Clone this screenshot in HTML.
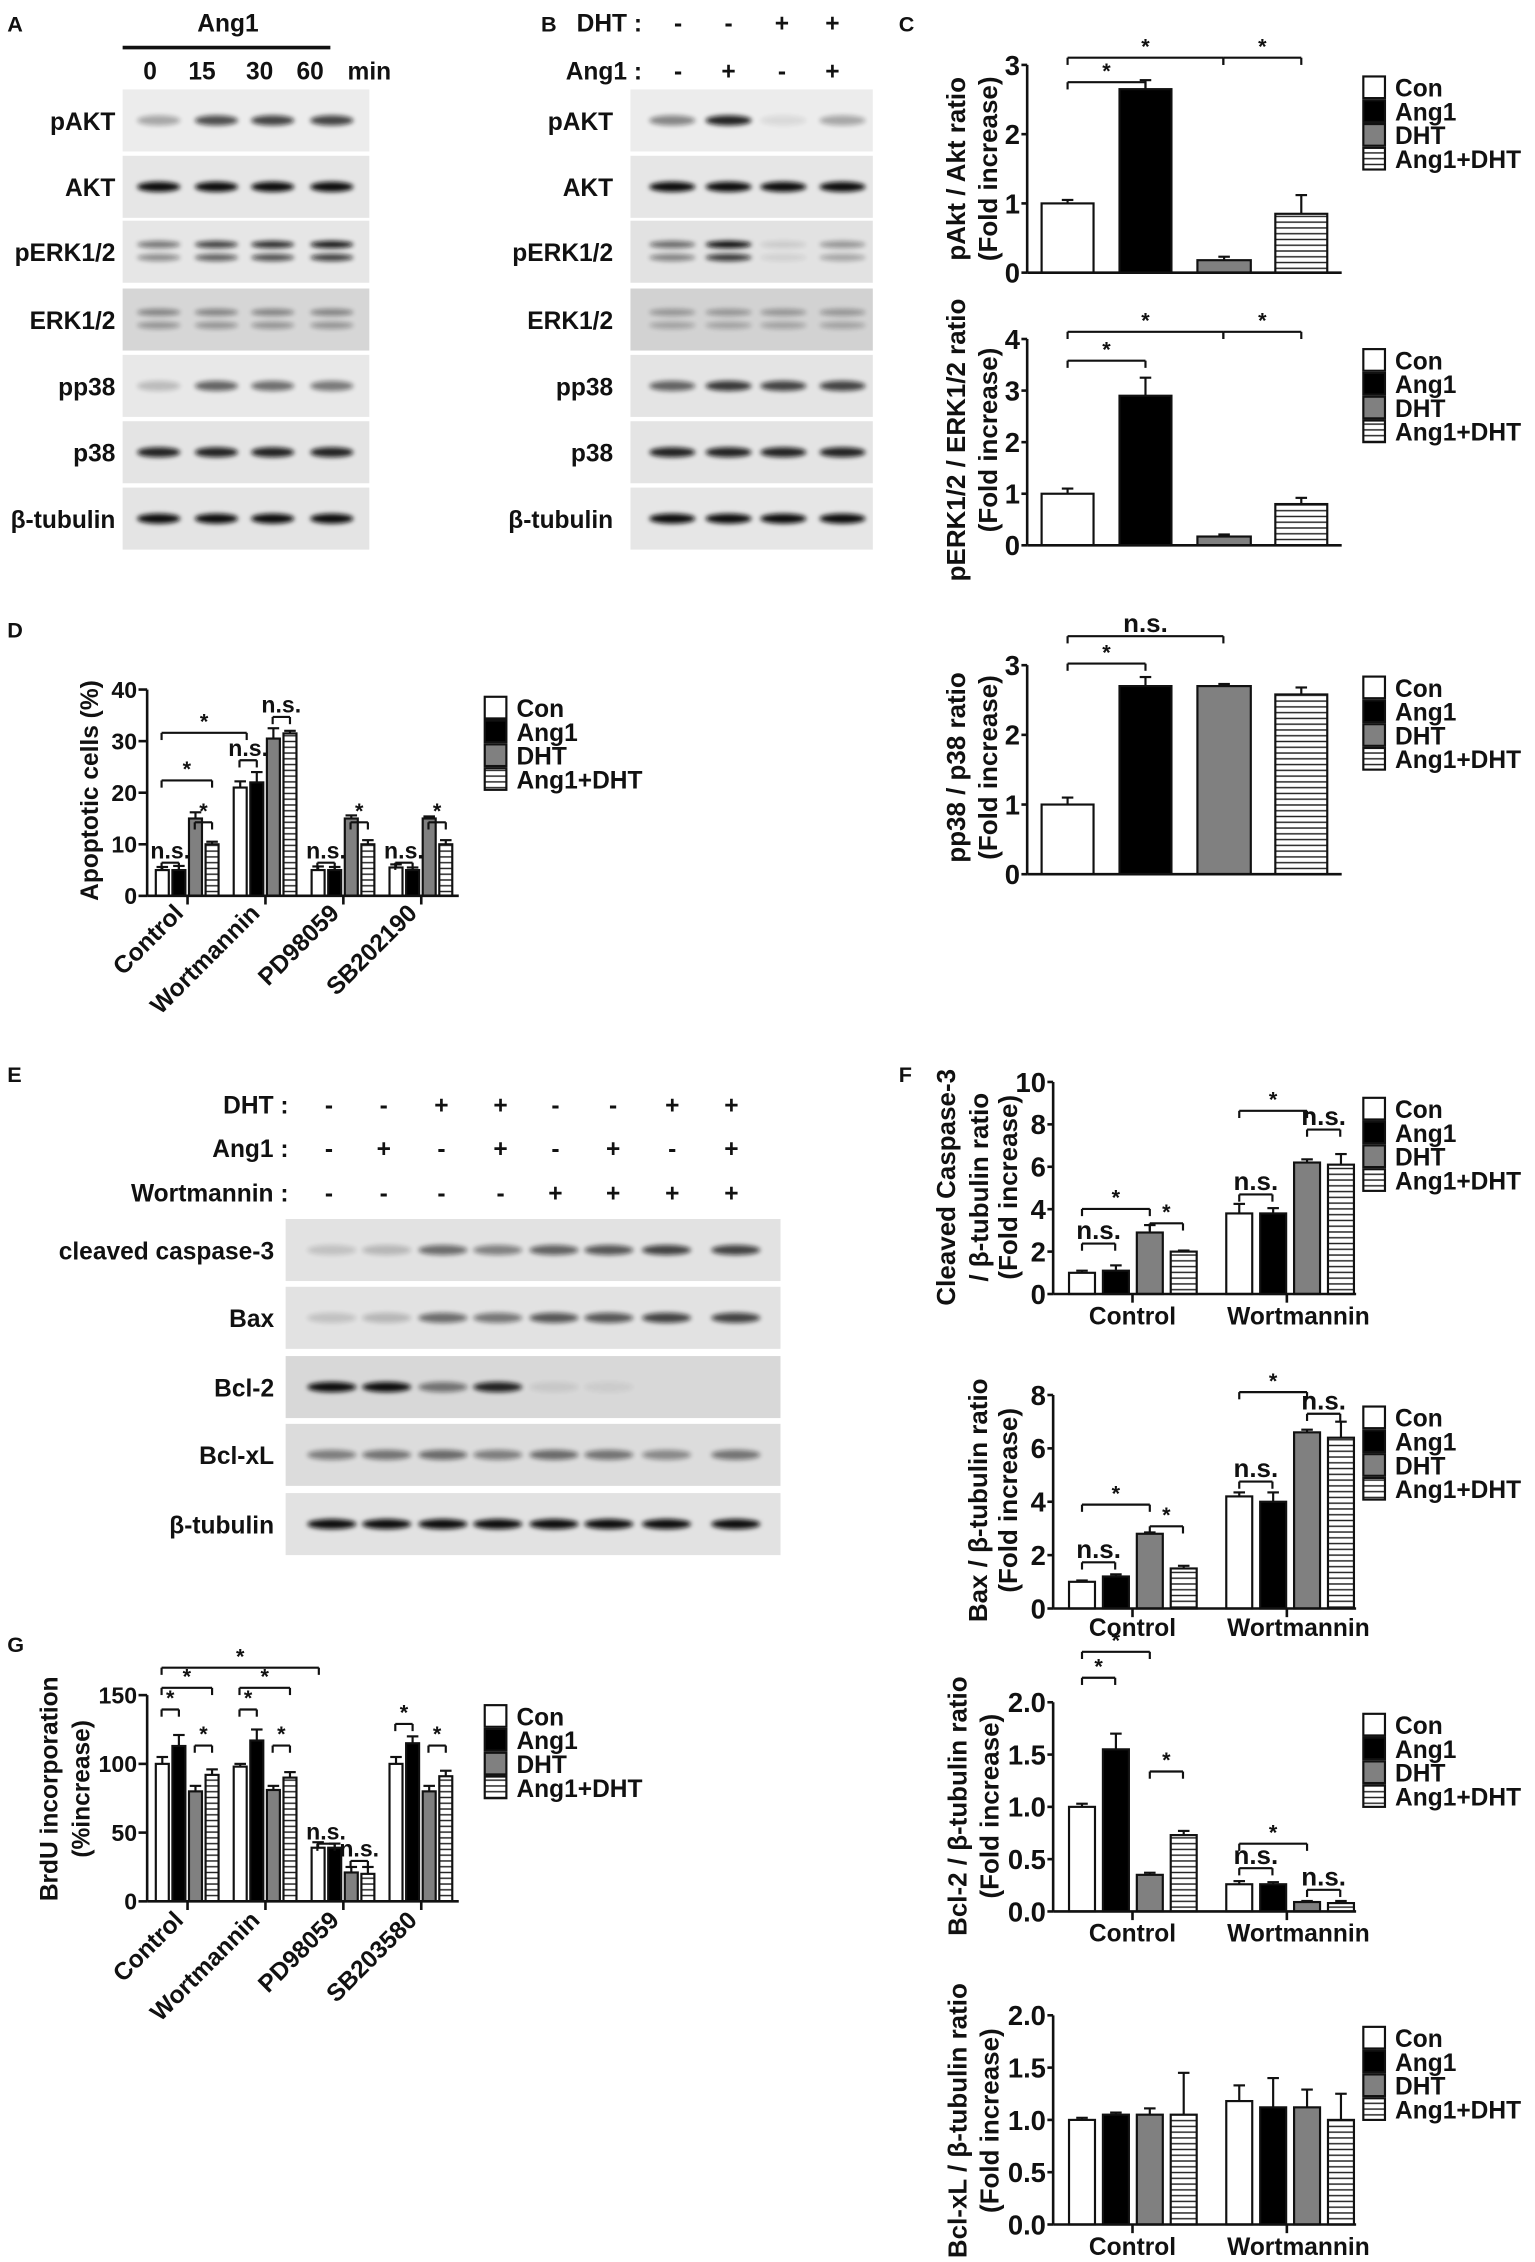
<!DOCTYPE html>
<html><head><meta charset="utf-8"><style>
html,body{margin:0;padding:0;background:#fff;}
svg{display:block;}
text{font-family:"Liberation Sans",Arial,sans-serif;font-weight:bold;fill:#111;}
</style></head><body>
<svg id="s" width="1535" height="2262" viewBox="0 0 1064 1568" preserveAspectRatio="none" xmlns="http://www.w3.org/2000/svg">
<defs>
<pattern id="hat" width="6" height="4" patternUnits="userSpaceOnUse"><rect width="6" height="4" fill="#fff"/><line x1="0" y1="2" x2="6" y2="2" stroke="#222" stroke-width="1"/></pattern>
<filter id="bl" x="-20%" y="-100%" width="140%" height="300%"><feGaussianBlur stdDeviation="1.6"/></filter>
</defs>
<g id="g"></g>
</svg>
<script>
var G=document.getElementById('g'),S='';
function T(x,y,t,sz,anc,rot){S+='<text x="'+x+'" y="'+y+'" font-size="'+(sz||16)+'" text-anchor="'+(anc||'start')+'"'+(rot?' transform="rotate(-'+rot+' '+x+' '+y+')"':'')+'>'+t+'</text>';}
function L(x1,y1,x2,y2,w){S+='<line x1="'+x1+'" y1="'+y1+'" x2="'+x2+'" y2="'+y2+'" stroke="#111" stroke-width="'+(w||1.5)+'"/>';}
function R(x,y,w,h,f,st){S+='<rect x="'+x+'" y="'+y+'" width="'+w+'" height="'+h+'" fill="'+f+'"'+(st?' stroke="#111" stroke-width="1.5"':'')+'/>';}
var fills=['#fff','#000','#808080','url(#hat)'];
function strip(x,y,w,h,lanes,ints,bg,two,rx){
 R(x,y,w,h,bg||'#e8e8e8');
 for(var i=0;i<lanes.length;i++){var a=ints[i];if(a<=0)continue;
  var cx=lanes[i],cy=y+h/2;
  if(two){S+='<ellipse cx="'+cx+'" cy="'+(cy-5)+'" rx="'+rx+'" ry="2.5" fill="#111" opacity="'+a+'" filter="url(#bl)"/>';
   S+='<ellipse cx="'+cx+'" cy="'+(cy+4)+'" rx="'+rx+'" ry="2.5" fill="#111" opacity="'+a*0.8+'" filter="url(#bl)"/>';}
  else S+='<ellipse cx="'+cx+'" cy="'+cy+'" rx="'+rx+'" ry="3.5" fill="#111" opacity="'+a+'" filter="url(#bl)"/>';}
}
// Panel A
T(5,22,'A',15);T(158,22,'Ang1',17,'middle');L(85,33,229,33,2.5);
[['0',104],['15',140],['30',180],['60',215]].forEach(function(a){T(a[1],55,a[0],17,'middle')});T(256,55,'min',17,'middle');
var rows=[['pAKT',62],['AKT',108],['pERK1/2',153],['ERK1/2',200],['pp38',246],['p38',292],['β-tubulin',338]];
var la=[110,150,189,230];
var Ai=[[.3,.7,.75,.75],[1,1,1,1],[.5,.75,.85,.95],[.4,.4,.4,.4],[.2,.6,.55,.5],[.9,.9,.9,.9],[1,1,1,1]];
var Abg=['#ececec','#e6e6e6','#e6e6e6','#d6d6d6','#e8e8e8','#e4e4e4','#e4e4e4'];
rows.forEach(function(r,i){T(80,r[1]+28,r[0],17,'end');strip(85,r[1],171,43,la,Ai[i],Abg[i],i==2||i==3,15);});
// Panel B
T(375,22,'B',15);T(445,22,'DHT :',17,'end');T(445,55,'Ang1 :',17,'end');
var lb=[470,505,542,577];['-','-','+','+'].forEach(function(c,i){T(lb[i],22,c,17,'middle')});['-','+','-','+'].forEach(function(c,i){T(lb[i],55,c,17,'middle')});
var lbb=[466,505,543,584];
var Bi=[[.45,.9,.08,.3],[1,1,1,1],[.55,1,.1,.35],[.3,.3,.3,.3],[.6,.8,.75,.75],[.9,.9,.9,.9],[1,1,1,1]];
var Bbg=['#ececec','#e6e6e6','#e2e2e2','#d2d2d2','#e4e4e4','#e4e4e4','#e6e6e6'];
rows.forEach(function(r,i){T(425,r[1]+28,r[0],17,'end');strip(437,r[1],168,43,lbb,Bi[i],Bbg[i],i==2||i==3,16);});
// Panel E
T(5,750,'E',15);
var le=[228,266,306,347,385,425,466,507];
[['DHT :','--++--++',772],['Ang1 :','-+-+-+-+',802],['Wortmannin :','----++++',833]].forEach(function(r){T(200,r[2],r[0],17,'end');for(var i=0;i<8;i++)T(le[i],r[2],r[1][i],17,'middle');});
var ll=[230,268,307,345,384,422,462,510];
var er=[['cleaved caspase-3',845],['Bax',892],['Bcl-2',940],['Bcl-xL',987],['β-tubulin',1035]];
var Ei=[[.15,.2,.55,.45,.6,.65,.75,.75],[.15,.2,.55,.5,.65,.65,.75,.75],[1,1,.5,.9,.08,.06,0,0],[.45,.5,.55,.45,.55,.5,.4,.5],[1,1,1,1,1,1,1,1]];
var Ebg=['#e2e2e2','#e2e2e2','#d8d8d8','#dcdcdc','#e2e2e2'];
er.forEach(function(r,i){T(190,r[1]+28,r[0],17,'end');strip(198,r[1],343,43,ll,Ei[i],Ebg[i],false,17);});
function chart(o){
 var ax=o.ax,y0=o.y0,pp=o.pp,fs=o.fs||16,tl=o.tl||6;
 o.bars.forEach(function(b){var h=b[2]*pp;
  if(b[3]){L(b[0]+b[1]/2,y0-(b[2]+b[3])*pp,b[0]+b[1]/2,y0-h,1.5);L(b[0]+b[1]/2-4,y0-(b[2]+b[3])*pp,b[0]+b[1]/2+4,y0-(b[2]+b[3])*pp,1.5);}
  R(b[0],y0-h,b[1],h,fills[b[4]],1);});
 L(ax,y0,ax,y0-o.top*pp,1.8);L(ax,y0,o.xe,y0,1.8);
 o.ticks.forEach(function(t){var y=y0-t*pp;L(ax-tl,y,ax,y,1.8);T(ax-tl-1,y+fs*0.36,o.fmt?o.fmt(t):t,fs,'end');});
 (o.xt||[]).forEach(function(x){L(x,y0,x,y0+6,1.8);});
 (o.br||[]).forEach(function(b){L(b[0],b[2],b[1],b[2],1.5);L(b[0],b[2],b[0],b[2]+5,1.5);L(b[1],b[2],b[1],b[2]+5,1.5);T((b[0]+b[1])/2,b[2]-3,b[3],b[3]=='*'?15:(o.bs||16),'middle');});
 if(o.leg){var lx=o.leg[0],ly=o.leg[1];['Con','Ang1','DHT','Ang1+DHT'].forEach(function(n,i){R(lx,ly+i*16.5,15,15,fills[i],1);T(lx+22,ly+i*16.5+14,n,17);});}
 (o.yl||[]).forEach(function(l){T(l[0],l[1],l[2],o.ys||18,'middle',90);});
}
function grp(starts,w,step,vals,errs){var b=[];starts.forEach(function(s,g){for(var i=0;i<4;i++)b.push([s+i*step,w,vals[g][i],errs?errs[g][i]:0.6,i]);});return b;}
var Cx=[[722,36],[776,36],[830,37],[884,36]];
function cb(v,e){return Cx.map(function(c,i){return [c[0],c[1],v[i],e[i],i];});}
T(623,22,'C',15);
chart({ax:712,y0:189,pp:48,top:3,xe:930,fs:19,tl:4,ticks:[0,1,2,3],bars:cb([1,2.65,.18,.85],[.05,.13,.05,.27]),br:[[740,848,40,'*'],[848,902,40,'*'],[740,794,57,'*']],leg:[945,53],yl:[[669,117,'pAkt / Akt ratio'],[691,117,'(Fold increase)']]});
chart({ax:712,y0:378,pp:35.75,top:4,xe:930,fs:19,tl:4,ticks:[0,1,2,3,4],bars:cb([1,2.9,.17,.8],[.1,.35,.04,.12]),br:[[740,848,230,'*'],[848,902,230,'*'],[740,794,250,'*']],leg:[945,242],yl:[[669,305,'pERK1/2 / ERK1/2 ratio'],[691,305,'(Fold increase)']]});
chart({ax:712,y0:606,pp:48.3,top:3,xe:930,fs:19,tl:4,bs:18,ticks:[0,1,2,3],bars:cb([1,2.7,2.7,2.58],[.1,.13,.03,.1]),br:[[740,848,441,'n.s.'],[740,794,460,'*']],leg:[945,469],yl:[[669,532,'pp38 / p38 ratio'],[691,532,'(Fold increase)']]});
// D
T(5,442,'D',15);
chart({ax:102,y0:621,pp:3.575,top:40,xe:318,ticks:[0,10,20,30,40],xt:[130,184,238,292],bars:grp([108,162,216,270],9,11.5,[[5,5,15,10],[21,22,30.5,31.5],[5,5,15,10],[5.5,5,15,10]],[[.6,.8,1.2,.5],[1.2,2,2,.5],[.7,.6,.6,.8],[.6,.5,.4,.8]]),
 br:[[112,124,598,'n.s.'],[112,147,541,'*'],[112,171,508,'*'],[135,147,570,'*'],[166,178,527,'n.s.'],[189,201,497,'n.s.'],[220,232,598,'n.s.'],[243,255,570,'*'],[274,286,598,'n.s.'],[297,309,570,'*']],
 leg:[336,483],ys:17,yl:[[68,548,'Apoptotic cells (%)']]});
[['Control',128],['Wortmannin',181],['PD98059',236],['SB202190',290]].forEach(function(a){T(a[1],634,a[0],17,'end',45);});
// G
T(5,1145,'G',15);
chart({ax:102,y0:1318,pp:0.953,top:150,xe:318,ticks:[0,50,100,150],xt:[130,184,238,292],bars:grp([108,162,216,270],9,11.5,[[100,113,80,92],[98,117,81,90],[39,39,21,20],[100,115,80,91]],[[5,8,4,4],[2,8,3,4],[4,3,4,5],[5,5,4,4]]),
 br:[[112,221,1156,'*'],[112,147,1170,'*'],[112,124,1185,'*'],[135,147,1210,'*'],[166,201,1170,'*'],[166,178,1185,'*'],[189,201,1210,'*'],[220,232,1278,'n.s.'],[243,255,1290,'n.s.'],[274,286,1195,'*'],[297,309,1210,'*']],
 leg:[336,1182],ys:17,yl:[[40,1240,'BrdU incorporation'],[62,1240,'(%increase)']]});
[['Control',128],['Wortmannin',181],['PD98059',236],['SB203580',290]].forEach(function(a){T(a[1],1332,a[0],17,'end',45);});
// F
T(623,750,'F',15);
var Fs=[741,850],Fw=18,Fst=23.5;
function fl(y){T(785,y,'Control',17,'middle');T(900,y,'Wortmannin',17,'middle');}
var FX=[785,892];
chart({ax:730,y0:897,pp:14.7,top:10,xe:940,fs:19,tl:4,bs:18,xt:FX,ticks:[0,2,4,6,8,10],bars:grp(Fs,Fw,Fst,[[1,1.1,2.9,2.0],[3.8,3.8,6.2,6.1]],[[.1,.25,.35,.05],[.45,.25,.15,.5]]),
 br:[[750,773,862,'n.s.'],[750,797,838,'*'],[797,820,848,'*'],[859,906,770,'*'],[859,882,828,'n.s.'],[906,929,783,'n.s.']],leg:[945,761],yl:[[662,823,'Cleaved Caspase-3'],[685,823,'/ β-tubulin ratio'],[705,823,'(Fold increase)']]});
fl(918);
chart({ax:730,y0:1115,pp:18.5,top:8,xe:940,fs:19,tl:4,bs:18,xt:FX,ticks:[0,2,4,6,8],bars:grp(Fs,Fw,Fst,[[1,1.2,2.8,1.5],[4.2,4.0,6.6,6.4]],[[.05,.08,.05,.1],[.15,.35,.1,.6]]),
 br:[[750,773,1083,'n.s.'],[750,797,1043,'*'],[797,820,1058,'*'],[859,906,965,'*'],[859,882,1027,'n.s.'],[906,929,980,'n.s.']],leg:[945,975],yl:[[684,1040,'Bax / β-tubulin ratio'],[705,1040,'(Fold increase)']]});
fl(1134);
chart({ax:730,y0:1325,pp:72.5,top:2,xe:940,fs:19,tl:4,bs:18,xt:FX,ticks:[0,.5,1,1.5,2],fmt:function(t){return t.toFixed(1)},bars:grp(Fs,Fw,Fst,[[1,1.55,.35,.73],[.26,.26,.09,.08]],[[.03,.15,.02,.04],[.03,.02,.01,.02]]),
 br:[[750,797,1145,'*'],[750,773,1163,'*'],[797,820,1228,'*'],[859,906,1278,'*'],[859,882,1295,'n.s.'],[906,929,1310,'n.s.']],leg:[945,1188],yl:[[670,1252,'Bcl-2 / β-tubulin ratio'],[692,1252,'(Fold increase)']]});
fl(1346);
chart({ax:730,y0:1542,pp:72.5,top:2,xe:940,fs:19,tl:4,xt:FX,ticks:[0,.5,1,1.5,2],fmt:function(t){return t.toFixed(1)},bars:grp(Fs,Fw,Fst,[[1,1.05,1.05,1.05],[1.18,1.12,1.12,1.0]],[[.02,.02,.06,.4],[.15,.28,.17,.25]]),
 leg:[945,1405],yl:[[670,1470,'Bcl-xL / β-tubulin ratio'],[692,1470,'(Fold increase)']]});
fl(1563);
G.innerHTML=S;
</script>
</body></html>
